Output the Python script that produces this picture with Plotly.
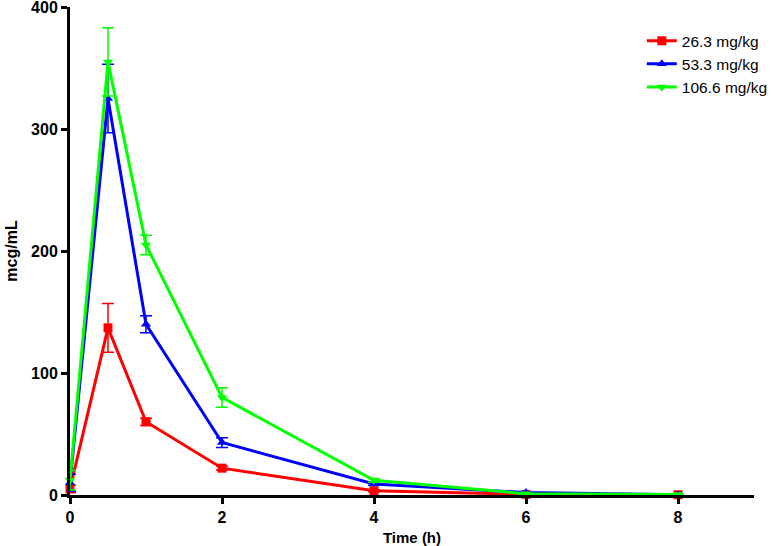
import plotly.graph_objects as go

time_h = [0, 0.5, 1, 2, 4, 6, 8]

names = ["26.3 mg/kg", "53.3 mg/kg", "106.6 mg/kg"]
low_vals = [5, 137, 60, 22, 3.5, 0.5, 0.2]
low_err = [3, 20, 3, 1.5, 0.8, 0.2, 0.1]
mid_vals = [10, 325, 140, 43, 9, 2, 0.3]
mid_err = [7, 28, 7, 4, 1, 0.3, 0.1]
high_vals = [12, 355, 205, 80, 12, 1, 0.5]
high_err = [8, 28, 8, 8, 1.5, 0.3, 0.1]

colors = ["#ff0000", "#0000ff", "#00ff00"]
symbols = ["square", "triangle-up", "triangle-down"]

fig = go.Figure()
for name, vals, errs, col, sym in zip(names, [low_vals, mid_vals, high_vals],
                                      [low_err, mid_err, high_err], colors, symbols):
    fig.add_trace(go.Scatter(
        x=time_h, y=vals, name=name, mode="lines+markers",
        line=dict(color=col, width=3),
        marker=dict(symbol=sym, size=9, color=col),
        error_y=dict(type="data", array=errs, visible=True, color=col,
                     thickness=1.5, width=6),
        cliponaxis=False,
    ))

font_family = "Liberation Sans, Arial, sans-serif"
fig.update_layout(
    width=771, height=546,
    margin=dict(l=70, r=17, t=7, b=51, autoexpand=False),
    plot_bgcolor="white", paper_bgcolor="white",
    font=dict(family=font_family, color="black"),
    showlegend=True,
    legend=dict(x=0.836, y=0.965, xanchor="left", yanchor="top",
                font=dict(size=15.5, family=font_family, color="black"),
                bgcolor="rgba(0,0,0,0)", tracegroupgap=0),
    xaxis=dict(range=[0, 9], tickvals=[0, 2, 4, 6, 8], showgrid=False, zeroline=False,
               automargin=False, ticklabeloverflow="allow",
               showline=True, linecolor="black", linewidth=3,
               ticks="outside", ticklen=6, tickwidth=3, tickcolor="black",
               tickfont=dict(size=16, weight="bold", family=font_family),
               title=dict(text="Time (h)", font=dict(size=15, weight="bold", family=font_family),
                          standoff=8)),
    yaxis=dict(range=[0, 400], tickvals=[0, 100, 200, 300, 400], showgrid=False, zeroline=False,
               automargin=False, ticklabeloverflow="allow",
               showline=True, linecolor="black", linewidth=3,
               ticks="outside", ticklen=6, tickwidth=3, tickcolor="black",
               tickfont=dict(size=16, weight="bold", family=font_family),
               title=dict(text="mcg/mL", font=dict(size=16, weight="bold", family=font_family),
                          standoff=10)),
)

fig.write_html("out.html", config={"displayModeBar": False},
               post_script="document.body.style.margin='0';document.body.style.overflow='hidden';")
